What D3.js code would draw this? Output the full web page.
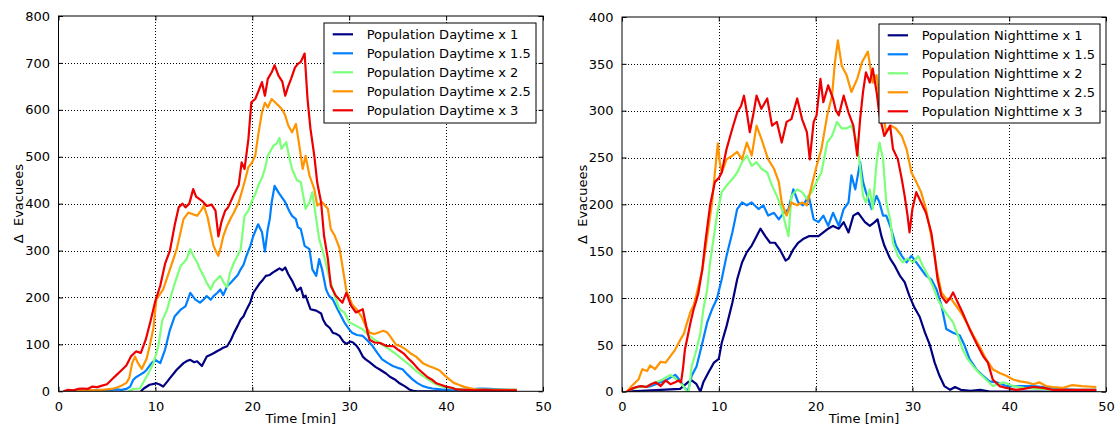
<!DOCTYPE html>
<html>
<head>
<meta charset="utf-8">
<script src="https://cdn.jsdelivr.net/npm/d3@7"></script>
<style>
  html, body { margin: 0; padding: 0; background: #fff; }
  svg { display: block; }
  text { font-family: "DejaVu Sans", sans-serif; fill: #000; }
</style>
</head>
<body>
<svg id="chart" width="1115" height="426"></svg>
<script>
// ---- data: time [min] and change in evacuees ----
const timeTicks = [0, 10, 20, 30, 40, 50];
const dayTicks = [0, 100, 200, 300, 400, 500, 600, 700, 800];
const nightTicks = [0, 50, 100, 150, 200, 250, 300, 350, 400];

const dayLabels = ["Population Daytime x 1", "Population Daytime x 1.5", "Population Daytime x 2",
                   "Population Daytime x 2.5", "Population Daytime x 3"];
const nightLabels = ["Population Nighttime x 1", "Population Nighttime x 1.5", "Population Nighttime x 2",
                     "Population Nighttime x 2.5", "Population Nighttime x 3"];

// daytime runs, [time, Δ evacuees]
const dayX1 = [[8.5,0],[8.8,6],[9.4,14],[10.1,17],[10.5,14],[10.8,10],[11.2,20],[11.5,28],[12.2,46],[12.9,60],[13.3,65],[13.6,67],[14,62],[14.3,64],[14.8,54],[15.3,74],[15.7,78],[16,81],[16.4,86],[16.7,89],[17,93],[17.4,96],[17.8,110],[18.1,124],[18.5,140],[18.8,153],[19.1,160],[19.4,174],[19.8,190],[20.1,210],[20.5,222],[20.8,231],[21.1,238],[21.4,246],[21.8,248],[22.1,253],[22.5,258],[22.8,262],[23.1,258],[23.4,264],[23.7,250],[24.1,236],[24.6,214],[25,221],[25.3,200],[25.5,204],[26,175],[26.6,172],[27.1,166],[27.3,153],[27.6,142],[28,135],[28.3,125],[28.7,122],[29,118],[29.4,106],[29.7,101],[30.1,106],[30.4,104],[30.8,96],[31,90],[31.4,74],[31.7,68],[32.1,62],[32.7,52],[33.2,46],[33.8,38],[34.2,31],[34.8,24],[35.2,17],[35.8,10],[36.2,4],[36.6,1],[37,0],[40,0],[44,0],[47.3,0]];
const dayX15 = [[2.2,0],[2.5,5],[3,2],[4,3],[5,2],[6,4],[6.5,3],[7,5],[7.4,10],[7.7,24],[8,30],[8.4,35],[8.8,40],[9.1,46],[9.6,60],[10,67],[10.5,60],[11,89],[11.5,131],[12,160],[12.6,174],[13.1,181],[13.6,210],[14.1,196],[14.6,189],[15,196],[15.3,203],[15.7,195],[16,203],[16.4,210],[16.7,217],[17,205],[17.4,224],[17.8,232],[18.1,239],[18.5,248],[18.8,260],[19.1,270],[19.4,289],[19.8,310],[20.1,331],[20.6,356],[21,339],[21.3,298],[21.6,346],[21.8,367],[22,403],[22.3,438],[22.7,424],[23,415],[23.4,403],[23.8,385],[24.1,374],[24.5,367],[24.7,350],[25,346],[25.4,310],[25.9,303],[26.2,260],[26.6,246],[26.9,282],[27.2,260],[27.6,218],[27.9,204],[28.3,196],[28.8,175],[29.5,147],[30,132],[30.3,125],[30.8,120],[31.4,118],[31.9,108],[32.4,97],[32.9,82],[33.4,68],[34,60],[34.5,54],[35,50],[35.5,47],[36,36],[36.5,26],[37,18],[37.6,11],[38.1,8],[38.6,6],[39.5,4],[40.5,3],[41.5,3],[42.5,4],[43.5,6],[44.5,5],[45.5,4],[46.5,3],[47.3,3]];
const dayX2 = [[7.2,0],[7.7,5],[8.4,6],[8.8,21],[9.3,39],[9.8,60],[10.3,96],[10.7,150],[11.2,174],[11.9,224],[12.6,267],[13.2,281],[13.6,303],[13.9,289],[14.3,275],[14.6,260],[15,245],[15.3,231],[15.7,217],[16,231],[16.4,240],[16.7,246],[17.1,230],[17.4,222],[17.7,253],[18.1,274],[18.5,290],[18.8,303],[19.2,374],[19.6,385],[19.9,403],[20.3,420],[20.6,438],[21,455],[21.3,474],[21.6,502],[22.2,524],[22.5,528],[22.8,540],[23,517],[23.5,531],[23.8,500],[24.1,474],[24.6,450],[25,446],[25.5,389],[25.9,403],[26.2,424],[26.6,367],[26.9,325],[27.4,289],[27.9,246],[28.5,204],[29,175],[29.5,168],[30,147],[30.7,140],[31.4,132],[32.1,118],[32.6,110],[33.1,104],[33.6,97],[34.1,90],[34.8,80],[35.5,68],[36,60],[36.5,51],[37,42],[37.6,33],[38.1,26],[38.6,19],[39.1,14],[39.6,10],[40.2,8],[40.7,6],[41.5,4],[42.5,3],[44,3],[45.5,3],[47.3,3]];
const dayX25 = [[1.5,0],[2,2],[3,3],[4,2],[5,4],[5.5,5],[6,8],[6.5,12],[7,18],[7.3,28],[7.6,60],[7.9,74],[8.2,60],[8.6,48],[9.1,70],[9.4,96],[9.8,135],[10.1,196],[10.8,217],[11.5,260],[12.2,303],[12.9,367],[13.4,381],[13.8,378],[14.3,374],[14.7,385],[15,396],[15.4,370],[15.7,339],[16,310],[16.3,296],[16.5,289],[16.7,303],[17,330],[17.4,353],[17.8,370],[18.1,381],[18.6,403],[19.2,446],[19.6,478],[19.9,485],[20.3,502],[20.6,545],[21,595],[21.3,615],[21.6,605],[22,623],[22.5,613],[22.7,609],[23.1,600],[23.4,588],[23.7,567],[24.1,552],[24.5,570],[24.8,531],[25.2,474],[25.5,502],[25.9,460],[26.4,431],[26.7,396],[27.2,403],[27.8,389],[28.1,346],[28.5,332],[29,305],[29.3,267],[29.7,215],[30.3,185],[30.8,174],[31.3,158],[31.7,139],[32.1,125],[32.6,122],[33.1,126],[33.5,129],[33.9,126],[34.3,115],[34.8,100],[35.3,96],[35.8,90],[36.4,80],[36.9,74],[37.6,60],[38.2,54],[38.7,50],[39.3,45],[39.8,35],[40.3,26],[40.8,18],[41.3,14],[41.8,10],[42.4,7],[43,4],[44,3],[45,3],[46,3],[47.3,3]];
const dayX3 = [[0.5,0],[1,3],[1.5,2],[2,5],[2.5,6],[3,5],[3.5,10],[4,9],[4.5,12],[5,15],[5.5,25],[6,35],[6.5,45],[7,55],[7.5,75],[8,85],[8.5,82],[9,110],[9.5,150],[10,193],[10.5,225],[11,272],[11.5,300],[12,355],[12.4,392],[12.8,400],[13.1,392],[13.5,400],[13.9,431],[14.2,415],[14.8,406],[15.3,395],[15.8,398],[16.2,385],[16.5,330],[16.8,360],[17.2,385],[17.5,392],[18.2,424],[18.6,440],[18.9,488],[19.2,474],[19.6,538],[19.9,616],[20.3,623],[20.6,638],[21,659],[21.3,630],[21.6,666],[22,680],[22.3,695],[22.7,673],[23.1,660],[23.4,630],[23.7,650],[24,666],[24.4,690],[24.7,698],[25,702],[25.4,720],[25.7,623],[26,560],[26.4,502],[26.7,445],[27.1,403],[27.4,332],[27.8,282],[28.1,225],[28.6,204],[29,195],[29.3,189],[29.7,210],[30.2,182],[30.7,168],[31.4,175],[31.9,125],[32.1,110],[32.6,104],[33.2,103],[33.8,97],[34.6,96],[35.1,88],[35.6,81],[36.1,70],[36.6,60],[37.1,48],[37.6,39],[38.1,30],[38.6,24],[39,17],[39.6,13],[40,10],[40.7,7],[41,4],[42,3],[43,2],[44,3],[45,2],[46,2],[47.3,2]];

// nighttime runs, [time, Δ evacuees]
const nightX1 = [[0.5,0],[2,1],[4,2],[6,3],[6.8,10],[7.2,12],[7.7,8],[8.1,0],[8.4,10],[8.9,20],[9.5,31],[10,35],[10.3,52],[10.8,70],[11.4,95],[11.9,120],[12.4,138],[12.9,149],[13.4,156],[13.9,166],[14.3,174],[14.8,166],[15.3,159],[15.8,159],[16.3,152],[16.9,140],[17.2,142],[17.7,152],[18.2,159],[18.7,163],[19.3,166],[19.8,166],[20.3,166],[20.8,170],[21.3,174],[21.8,177],[22.4,174],[22.9,181],[23.4,170],[23.9,188],[24.4,191],[25.1,181],[25.6,177],[26.1,181],[26.4,184],[26.8,166],[27.1,156],[27.7,142],[28.2,134],[28.7,124],[29.2,117],[29.7,102],[30.2,90],[30.75,80],[31.3,63],[31.8,50],[32.3,31],[32.8,17],[33.3,6],[33.9,2],[34.4,5],[35,2],[36,1],[37,2],[38,0],[42,0],[46,0],[49,0]];
const nightX15 = [[0.5,0],[1,3],[1.5,5],[2,6],[2.5,5],[3,6],[3.5,8],[4,10],[4.5,12],[5,15],[5.5,18],[6,12],[6.4,5],[6.8,0],[7.2,17],[7.7,27],[8.3,52],[8.8,74],[9.3,88],[9.8,99],[10.3,120],[10.8,145],[11.4,170],[11.9,195],[12.4,202],[12.9,199],[13.4,202],[14.1,195],[14.6,199],[15.1,188],[15.7,191],[16.2,184],[16.7,191],[17.2,195],[17.7,216],[18.2,202],[18.7,199],[19.3,209],[19.8,184],[20.3,181],[20.8,188],[21.3,177],[21.8,191],[22.4,177],[22.9,195],[23.4,202],[23.7,231],[24.1,216],[24.6,245],[24.9,224],[25.2,213],[25.8,195],[26.3,209],[26.6,202],[26.97,188],[27.3,188],[27.8,174],[28.3,156],[28.9,145],[29.4,138],[29.9,145],[30.4,138],[30.9,131],[31.4,124],[31.95,120],[32.5,109],[33,92],[33.5,67],[34.2,63],[34.9,60],[35.4,49],[35.9,35],[36.6,24],[37.3,17],[37.97,11],[38.7,10],[39.7,6],[41.1,6],[42.5,6],[43.5,5],[45,3],[47,2],[49,2]];
const nightX2 = [[0.5,0],[1,3],[1.5,4],[2,6],[2.5,5],[3,8],[3.5,10],[4,12],[4.5,15],[5,18],[5.5,14],[6,10],[6.4,5],[6.7,0],[6.9,0],[7.2,27],[7.7,45],[8.1,63],[8.4,88],[8.8,109],[9.1,138],[9.5,166],[9.8,188],[10.3,213],[10.8,220],[11.4,227],[11.9,234],[12.4,245],[12.9,252],[13.4,241],[13.9,245],[14.4,238],[15,234],[15.5,220],[16,209],[16.5,195],[17,174],[17.2,166],[17.5,209],[18.1,216],[18.6,213],[19.1,206],[19.6,213],[20.1,224],[20.6,234],[21.2,266],[21.7,273],[22.2,288],[22.7,281],[23.2,281],[23.7,284],[24.3,266],[24.6,240],[24.9,209],[25.2,202],[25.6,216],[25.9,195],[26.3,245],[26.6,266],[26.97,248],[27.3,202],[27.7,184],[28,159],[28.5,145],[29,138],[29.5,142],[30.1,138],[30.6,145],[31.1,134],[31.6,124],[32.1,113],[32.6,99],[33.2,88],[33.7,81],[34.2,74],[34.7,60],[35.2,45],[35.7,35],[36.3,27],[36.9,20],[37.6,13],[38.3,6],[38.8,8],[39.4,10],[40.4,6],[41.5,4],[43,3],[45,2],[47,2],[49,2]];
const nightX25 = [[0.5,0],[1,6],[1.7,13],[2.1,24],[2.6,22],[2.9,28],[3.4,24],[4,32],[4.5,31],[5,38],[5.5,45],[6,55],[6.4,62],[6.7,73],[7.1,86],[7.4,92],[7.7,104],[8.3,130],[8.8,165],[9.3,202],[9.6,234],[9.9,265],[10.1,245],[10.3,234],[10.8,248],[11.4,252],[11.9,256],[12.4,248],[12.9,266],[13.4,252],[13.9,284],[14.4,270],[15.1,248],[15.7,238],[16.2,224],[16.5,202],[17,188],[17.5,202],[18.1,199],[18.6,202],[19.1,199],[19.6,220],[20.1,241],[20.6,259],[21.2,295],[21.7,316],[22,352],[22.3,375],[22.7,348],[23.2,338],[23.7,320],[24.3,334],[24.8,352],[25.4,363],[25.9,330],[26.3,338],[26.6,313],[26.97,295],[27.3,277],[27.8,284],[28.3,281],[28.9,273],[29.4,259],[29.9,234],[30.4,224],[30.9,213],[31.4,195],[31.95,166],[32.5,131],[33,106],[33.5,99],[34,99],[34.5,92],[35.05,84],[35.6,74],[36.3,60],[36.9,49],[37.6,35],[38.3,24],[39,20],[39.7,17],[40.4,13],[41.1,11],[41.8,10],[42.5,8],[43.1,10],[43.8,6],[44.5,5],[45.5,4],[46.5,7],[47.5,6],[49,5]];
const nightX3 = [[0.5,0],[1,3],[1.5,5],[2,6],[2.5,5],[3,8],[3.5,10],[4,6],[4.5,12],[5,8],[5.5,10],[5.8,12],[6.1,10],[6.3,25],[6.5,45],[6.8,60],[7.1,75],[7.4,88],[7.7,98],[7.9,106],[8.3,131],[8.6,159],[9.1,199],[9.6,224],[10,228],[10.3,234],[10.8,259],[11.4,281],[11.9,298],[12.3,305],[12.6,316],[12.9,298],[13.2,277],[13.6,298],[13.9,316],[14.4,302],[15,313],[15.5,284],[16,288],[16.5,266],[17,288],[17.5,291],[18.1,313],[18.6,291],[19.1,277],[19.4,248],[19.8,288],[20.1,295],[20.5,334],[20.8,309],[21.3,327],[21.8,313],[22.1,300],[22.4,295],[22.9,316],[23.4,298],[23.9,284],[24.3,252],[24.6,291],[24.9,320],[25.2,341],[25.6,330],[25.9,345],[26.3,320],[26.6,295],[27.1,273],[27.7,284],[28,259],[28.5,248],[28.9,227],[29.2,209],[29.5,188],[29.7,170],[30,195],[30.4,213],[30.9,202],[31.4,191],[31.95,170],[32.3,145],[32.6,120],[33,102],[33.5,95],[33.9,100],[34.2,106],[34.7,95],[35.2,84],[35.9,67],[36.6,52],[37.3,38],[37.8,31],[38.3,13],[39,6],[39.7,4],[40.7,2],[41.5,3],[42.5,5],[43.5,4],[44.5,2],[46,2],[47.5,2],[49,2]];

// ---- styling ----
const seriesColors = ["#000080", "#0080ff", "#7cff79", "#ff9400", "#ee0000"];
const fontSize = 13;
const legendFontSize = 13;

const svg = d3.select("#chart");

function drawPanel(opts) {
  const { left, right, top, bottom, yMax, yTicks, series, labels, legend, yLabelX } = opts;
  const x = d3.scaleLinear().domain([0, 50]).range([left, right]);
  const y = d3.scaleLinear().domain([0, yMax]).range([bottom, top]);
  const g = svg.append("g");

  // dotted grid
  const grid = g.append("g").attr("stroke", "#000").attr("stroke-width", 1)
    .attr("stroke-dasharray", "1,2").attr("shape-rendering", "crispEdges");
  timeTicks.slice(1, -1).forEach(t => {
    grid.append("line").attr("x1", Math.round(x(t)) + 0.5).attr("x2", Math.round(x(t)) + 0.5)
      .attr("y1", top).attr("y2", bottom);
  });
  yTicks.slice(1, -1).forEach(v => {
    grid.append("line").attr("y1", Math.round(y(v)) + 0.5).attr("y2", Math.round(y(v)) + 0.5)
      .attr("x1", left).attr("x2", right);
  });

  // series
  const clipId = "clip" + Math.round(left);
  svg.append("clipPath").attr("id", clipId).append("rect")
    .attr("x", left).attr("y", top).attr("width", right - left).attr("height", bottom - top);
  const line = d3.line().x(d => x(d[0])).y(d => y(d[1]));
  g.append("g").attr("clip-path", `url(#${clipId})`)
    .selectAll("path").data(series).join("path")
    .attr("d", line)
    .attr("fill", "none")
    .attr("stroke", (d, i) => seriesColors[i])
    .attr("stroke-width", 2.2)
    .attr("stroke-linejoin", "round");

  // axes (ticks inward, mirrored on top/right)
  const tickLen = 4.5;
  const xAxis = d3.axisBottom(x).tickValues(timeTicks).tickSize(-tickLen).tickPadding(6 + tickLen);
  const yAxis = d3.axisLeft(y).tickValues(yTicks).tickSize(-tickLen).tickPadding(4 + tickLen);
  const ax = g.append("g").attr("transform", `translate(0,${bottom})`).call(xAxis);
  const ay = g.append("g").attr("transform", `translate(${left},0)`).call(yAxis);
  const axTop = g.append("g").attr("transform", `translate(0,${top})`)
    .call(d3.axisTop(x).tickValues(timeTicks).tickSize(-tickLen).tickFormat(""));
  const ayRight = g.append("g").attr("transform", `translate(${right},0)`)
    .call(d3.axisRight(y).tickValues(yTicks).tickSize(-tickLen).tickFormat(""));
  [ax, ay, axTop, ayRight].forEach(a => {
    a.select(".domain").remove();
    a.selectAll(".tick line").attr("stroke", "#000").attr("stroke-width", 1);
    a.selectAll("text").attr("font-family", "DejaVu Sans").attr("font-size", fontSize).attr("fill", "#000");
  });

  // frame
  g.append("rect").attr("x", left).attr("y", top).attr("width", right - left).attr("height", bottom - top)
    .attr("fill", "none").attr("stroke", "#000").attr("stroke-width", 1);

  // axis titles
  g.append("text").attr("x", (left + right) / 2).attr("y", 423)
    .attr("text-anchor", "middle").attr("font-size", fontSize).text("Time [min]");
  g.append("text").attr("transform", `translate(${yLabelX},${(top + bottom) / 2}) rotate(-90)`)
    .attr("text-anchor", "middle").attr("font-size", fontSize).text("\u0394\u00a0\u00a0Evacuees");

  // legend
  const lg = g.append("g");
  lg.append("rect").attr("x", legend.x).attr("y", legend.y).attr("width", legend.w).attr("height", legend.h)
    .attr("fill", "#fff").attr("stroke", "#000").attr("stroke-width", 1);
  labels.forEach((lab, i) => {
    const cy = legend.y + 11.3 + i * 19;
    lg.append("line").attr("x1", legend.x + 8.7).attr("x2", legend.x + 29)
      .attr("y1", cy).attr("y2", cy).attr("stroke", seriesColors[i]).attr("stroke-width", 2.2);
    lg.append("text").attr("x", legend.x + 42.7).attr("y", cy + 4.7)
      .attr("font-size", legendFontSize).text(lab);
  });
}

drawPanel({
  left: 58.5, right: 543, top: 16, bottom: 391.3, yMax: 800, yTicks: dayTicks,
  series: [dayX1, dayX15, dayX2, dayX25, dayX3], labels: dayLabels,
  legend: { x: 324, y: 23, w: 212, h: 100 }, yLabelX: 23
});
drawPanel({
  left: 622, right: 1106, top: 17, bottom: 391.7, yMax: 400, yTicks: nightTicks,
  series: [nightX1, nightX15, nightX2, nightX25, nightX3], labels: nightLabels,
  legend: { x: 879, y: 24, w: 221, h: 99 }, yLabelX: 587
});
</script>
</body>
</html>
